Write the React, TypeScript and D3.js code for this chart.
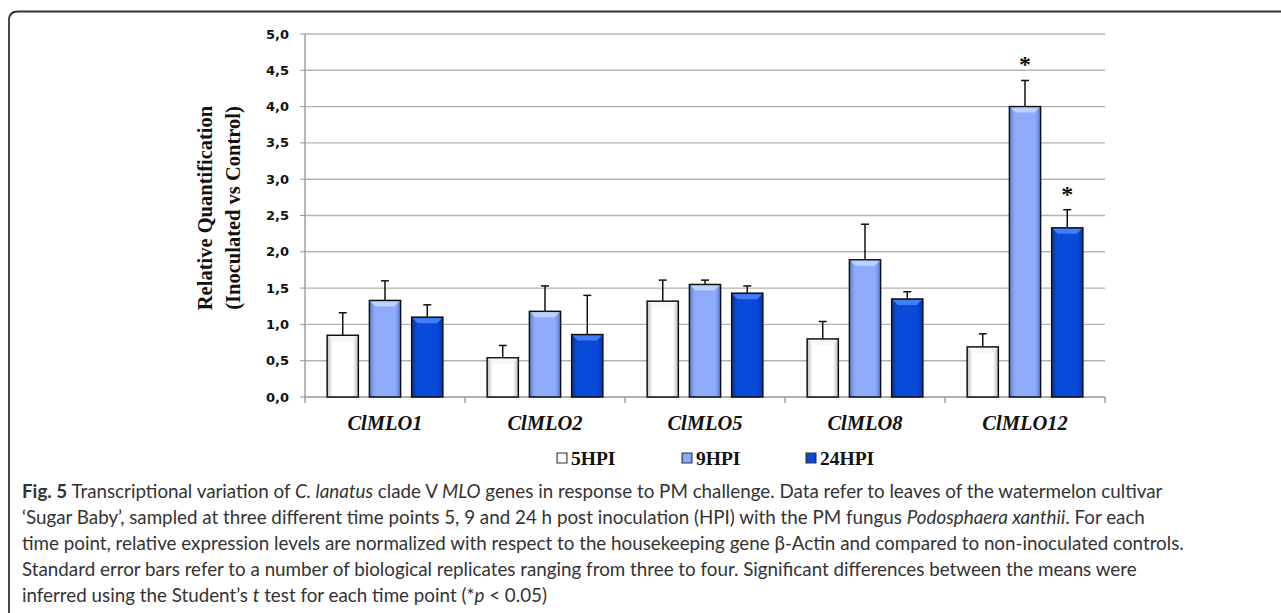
import React from "react";
import * as d3 from "d3";

const categories = ["ClMLO1", "ClMLO2", "ClMLO5", "ClMLO8", "ClMLO12"];
const seriesNames = ["5HPI", "9HPI", "24HPI"];
const hpi5 = [0.85, 0.54, 1.32, 0.8, 0.69];
const hpi5Err = [0.31, 0.17, 0.29, 0.24, 0.18];
const hpi9 = [1.33, 1.18, 1.55, 1.89, 4.0];
const hpi9Err = [0.27, 0.35, 0.06, 0.49, 0.36];
const hpi24 = [1.1, 0.86, 1.43, 1.35, 2.33];
const hpi24Err = [0.17, 0.54, 0.1, 0.1, 0.25];
const sig9 = [false, false, false, false, true];
const sig24 = [false, false, false, false, true];
const yTicks = [0, 0.5, 1, 1.5, 2, 2.5, 3, 3.5, 4, 4.5, 5];

const W = 1281;
const H = 613;
const plot = { left: 305, right: 1105, top: 34, bottom: 397 };

const palette = [
  { edge: "#bdbdbd", mid: "#ffffff", top: "#f4f4f4" },
  { edge: "#5f7fd6", mid: "#8eacfb", top: "#c6d6ff" },
  { edge: "#0535a8", mid: "#0a4ad8", top: "#4f86ff" },
];

export default function App() {
  const x0 = d3.scaleBand().domain(categories).range([plot.left, plot.right]).padding(0);
  const x1 = d3
    .scaleBand()
    .domain(seriesNames)
    .range([0, x0.bandwidth()])
    .paddingInner(0.262)
    .paddingOuter(0.524);
  const y = d3.scaleLinear().domain([0, 5]).range([plot.bottom, plot.top]);
  const fmt = (v: number) => d3.format(".1f")(v).replace(".", ",");

  const rows = categories.flatMap((c, i) => [
    { c, s: 0, v: hpi5[i], e: hpi5Err[i], sig: false },
    { c, s: 1, v: hpi9[i], e: hpi9Err[i], sig: sig9[i] },
    { c, s: 2, v: hpi24[i], e: hpi24Err[i], sig: sig24[i] },
  ]);

  const serif = "'Liberation Serif', 'Times New Roman', serif";
  const legendX = [557, 682, 806];

  return (
    <svg
      width={W}
      height={H}
      style={{ position: "absolute", left: 0, top: 0, display: "block", background: "#fff" }}
    >
      <defs>
        {palette.map((p, i) => (
          <linearGradient key={i} id={`g${i}`} x1="0" x2="1" y1="0" y2="0">
            <stop offset="0" stopColor={p.edge} />
            <stop offset="0.18" stopColor={p.mid} />
            <stop offset="0.82" stopColor={p.mid} />
            <stop offset="1" stopColor={p.edge} />
          </linearGradient>
        ))}
      </defs>

      {/* frame */}
      <path
        d={`M9,${H + 5} L9,20 Q9,11.5 18,11.5 L${W + 5},11.5`}
        fill="none"
        stroke="#333"
        strokeWidth={1.8}
      />

      {/* gridlines */}
      {yTicks.map((t) => (
        <g key={t}>
          {t > 0 && (
            <line x1={plot.left} x2={plot.right} y1={y(t)} y2={y(t)} stroke="#b3b3b3" strokeWidth={1.4} />
          )}
          <line x1={plot.left - 5} x2={plot.left} y1={y(t)} y2={y(t)} stroke="#999" strokeWidth={1} />
          <text
            x={289}
            y={y(t)}
            dy="0.35em"
            textAnchor="end"
            fontFamily="'DejaVu Sans', Verdana, sans-serif"
            fontWeight="bold"
            fontSize={13}
            fill="#111"
          >
            {fmt(t)}
          </text>
        </g>
      ))}

      {/* axes */}
      <line x1={plot.left} x2={plot.left} y1={plot.top} y2={plot.bottom + 6} stroke="#999" strokeWidth={1.4} />
      <line x1={plot.left} x2={plot.right} y1={plot.bottom} y2={plot.bottom} stroke="#999" strokeWidth={1.4} />
      {categories.map((c) => (
        <line
          key={c}
          x1={(x0(c) as number) + x0.bandwidth()}
          x2={(x0(c) as number) + x0.bandwidth()}
          y1={plot.bottom}
          y2={plot.bottom + 6}
          stroke="#999"
          strokeWidth={1.4}
        />
      ))}

      {/* bars */}
      {rows.map((d, i) => {
        const bx = (x0(d.c) as number) + (x1(seriesNames[d.s]) as number);
        const bw = x1.bandwidth();
        const by = y(d.v);
        const bh = plot.bottom - by;
        const cx = bx + bw / 2;
        const ey = y(d.v + d.e);
        return (
          <g key={i}>
            <line x1={cx} x2={cx} y1={by} y2={ey} stroke="#111" strokeWidth={1.5} />
            <line x1={cx - 4} x2={cx + 4} y1={ey} y2={ey} stroke="#111" strokeWidth={1.5} />
            <rect x={bx} y={by} width={bw} height={bh} fill={`url(#g${d.s})`} stroke="#111" strokeWidth={1.5} />
            <path
              d={`M${bx + 1},${by + 1} L${bx + bw - 1},${by + 1} L${bx + bw - 6},${by + 6} L${bx + 6},${by + 6} Z`}
              fill={palette[d.s].top}
              opacity={0.85}
            />
            {d.sig && (
              <text
                x={cx}
                y={ey - 8}
                textAnchor="middle"
                fontFamily={serif}
                fontWeight="bold"
                fontSize={24}
                fill="#111"
              >
                *
              </text>
            )}
          </g>
        );
      })}

      {/* category labels */}
      {categories.map((c) => (
        <text
          key={c}
          x={(x0(c) as number) + x0.bandwidth() / 2}
          y={423}
          dy="0.35em"
          textAnchor="middle"
          fontFamily={serif}
          fontWeight="bold"
          fontStyle="italic"
          fontSize={20.5}
          fill="#111"
        >
          {c}
        </text>
      ))}

      {/* y axis title */}
      <g transform="translate(205,208) rotate(-90)">
        <text textAnchor="middle" dy="0.35em" fontFamily={serif} fontWeight="bold" fontSize={20.5} fill="#111">
          Relative Quantification
        </text>
        <text textAnchor="middle" y={28} dy="0.35em" fontFamily={serif} fontWeight="bold" fontSize={20.5} fill="#111">
          (Inoculated vs Control)
        </text>
      </g>

      {/* legend */}
      {seriesNames.map((s, i) => (
        <g key={s}>
          <rect x={legendX[i]} y={453} width={10} height={10} fill={`url(#g${i})`} stroke="#333" strokeWidth={1} />
          <text
            x={legendX[i] + 14}
            y={458}
            dy="0.35em"
            fontFamily={serif}
            fontWeight="bold"
            fontSize={19.5}
            fill="#111"
          >
            {s}
          </text>
        </g>
      ))}

      {/* caption */}
      <g fontFamily="Lato, 'Open Sans', sans-serif" fontSize={18.8} fill="#333">
        <text x={22} y={498}>
          <tspan fontWeight="bold">Fig. 5</tspan> Transcriptional variation of <tspan fontStyle="italic">C. lanatus</tspan>{" "}
          clade V <tspan fontStyle="italic">MLO</tspan> genes in response to PM challenge. Data refer to leaves of the
          watermelon cultivar
        </text>
        <text x={22} y={524}>
          ‘Sugar Baby’, sampled at three different time points 5, 9 and 24 h post inoculation (HPI) with the PM fungus{" "}
          <tspan fontStyle="italic">Podosphaera xanthii</tspan>. For each
        </text>
        <text x={22} y={550}>
          time point, relative expression levels are normalized with respect to the housekeeping gene β-Actin and
          compared to non-inoculated controls.
        </text>
        <text x={22} y={576}>
          Standard error bars refer to a number of biological replicates ranging from three to four. Significant
          differences between the means were
        </text>
        <text x={22} y={602}>
          inferred using the Student’s <tspan fontStyle="italic">t</tspan> test for each time point (*
          <tspan fontStyle="italic">p</tspan> &lt; 0.05)
        </text>
      </g>
    </svg>
  );
}
